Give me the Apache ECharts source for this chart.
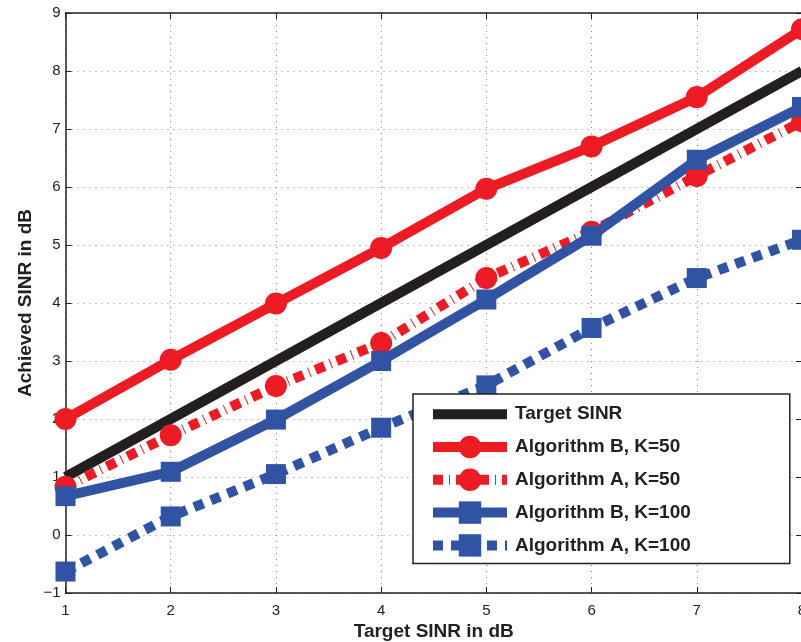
<!DOCTYPE html>
<html><head><meta charset="utf-8">
<script src="https://cdn.jsdelivr.net/npm/echarts@6/dist/echarts.min.js"></script>
<style>html,body{margin:0;padding:0;background:#fff}#c{width:801px;height:642px}</style>
</head><body><div id="c"></div>
<script>
const targetSINR = [1, 2, 3, 4, 5, 6, 7, 8];
const targetLine = [1, 2, 3, 4, 5, 6, 7, 8];
const algBK50 = [2.0, 3.02, 3.99, 4.95, 5.97, 6.7, 7.55, 8.72];
const algAK50 = [0.83, 1.72, 2.57, 3.31, 4.43, 5.23, 6.19, 7.13];
const algBK100 = [0.67, 1.09, 1.99, 3.0, 4.06, 5.16, 6.47, 7.38];
const algAK100 = [-0.63, 0.32, 1.05, 1.85, 2.58, 3.57, 4.43, 5.09];
const seriesNames = ['Target SINR', 'Algorithm B, K=50', 'Algorithm A, K=50', 'Algorithm B, K=100', 'Algorithm A, K=100'];
const xTickLabels = ['1', '2', '3', '4', '5', '6', '7', '8'];
const yTickLabels = ['\u22121', '0', '1', '2', '3', '4', '5', '6', '7', '8', '9'];

const RED = '#ED1C24', BLUE = '#3053A3', BLACK = '#231F20';
const pairs = ys => targetSINR.map((x, i) => [x, ys[i]]);
const font = '"Liberation Sans", Arial, Helvetica, sans-serif';

const chart = echarts.init(document.getElementById('c'), null, {renderer: 'canvas'});
const gridLine = {show: true, lineStyle: {color: '#8a8a8a', width: 1, type: [1, 5]}};
const axisLine = {show: true, onZero: false, lineStyle: {color: '#222', width: 1.5}};
const tick = {show: true, inside: true, length: 6, lineStyle: {color: '#222', width: 1}};

function mkSeries(name, data, color, dash, symbol, size) {
  return {
    name, type: 'line', data: pairs(data),
    symbol: symbol, symbolSize: size, showSymbol: symbol !== 'none',
    lineStyle: {color, width: 10, type: dash, cap: 'butt', join: 'miter'},
    itemStyle: {color, borderWidth: 0},
    emphasis: {disabled: true}, animation: false
  };
}

chart.setOption({
  animation: false,
  grid: {left: 65.5, right: -1, top: 13, bottom: 49, containLabel: false, outerBoundsMode: 'none'},
  xAxis: [{
    type: 'value', min: 1, max: 8, interval: 1, position: 'bottom',
    name: 'Target SINR in dB', nameLocation: 'middle', nameGap: 29, nameMoveOverlap: false,
    nameTextStyle: {fontFamily: font, fontWeight: 'bold', fontSize: 19, color: '#222'},
    axisLine, axisTick: tick, splitLine: gridLine,
    axisLabel: {fontFamily: font, fontSize: 15, color: '#222', margin: 10,
      formatter: v => xTickLabels[v - 1]}
  }, {
    type: 'value', min: 1, max: 8, interval: 1, position: 'top',
    axisLine, axisTick: tick, splitLine: {show: false}, axisLabel: {show: false}
  }],
  yAxis: [{
    type: 'value', min: -1, max: 9, interval: 1, position: 'left',
    name: 'Achieved SINR in dB', nameLocation: 'middle', nameGap: 30, nameMoveOverlap: false,
    nameTextStyle: {fontFamily: font, fontWeight: 'bold', fontSize: 19, color: '#222'},
    axisLine, axisTick: tick, splitLine: gridLine,
    axisLabel: {fontFamily: font, fontSize: 15, color: '#222', margin: 5,
      formatter: v => yTickLabels[v + 1]}
  }, {
    type: 'value', min: -1, max: 9, interval: 1, position: 'right',
    axisLine, axisTick: tick, splitLine: {show: false}, axisLabel: {show: false}
  }],
  legend: {
    orient: 'vertical', left: 413, top: 394,
    padding: [9, 99, 7, 15], itemGap: 10.4, itemWidth: 74, itemHeight: 28,
    backgroundColor: '#fff', borderColor: '#222', borderWidth: 1.5, borderRadius: 0,
    textStyle: {fontFamily: font, fontWeight: 'bold', fontSize: 19, color: '#222', padding: [0, 0, 0, 3]},
    lineStyle: {width: 10},
    data: [
      {name: seriesNames[0], itemStyle: {opacity: 0}},
      seriesNames[1], seriesNames[2], seriesNames[3], seriesNames[4]
    ],
    selectedMode: false
  },
  series: [
    mkSeries(seriesNames[0], targetLine, BLACK, 'solid', 'none', 0),
    mkSeries(seriesNames[1], algBK50, RED, 'solid', 'circle', 22),
    mkSeries(seriesNames[2], algAK50, RED, [10, 6, 1, 6], 'circle', 22),
    mkSeries(seriesNames[3], algBK100, BLUE, 'solid', 'rect', 20),
    mkSeries(seriesNames[4], algAK100, BLUE, [10, 8], 'rect', 20)
  ]
});
</script></body></html>
